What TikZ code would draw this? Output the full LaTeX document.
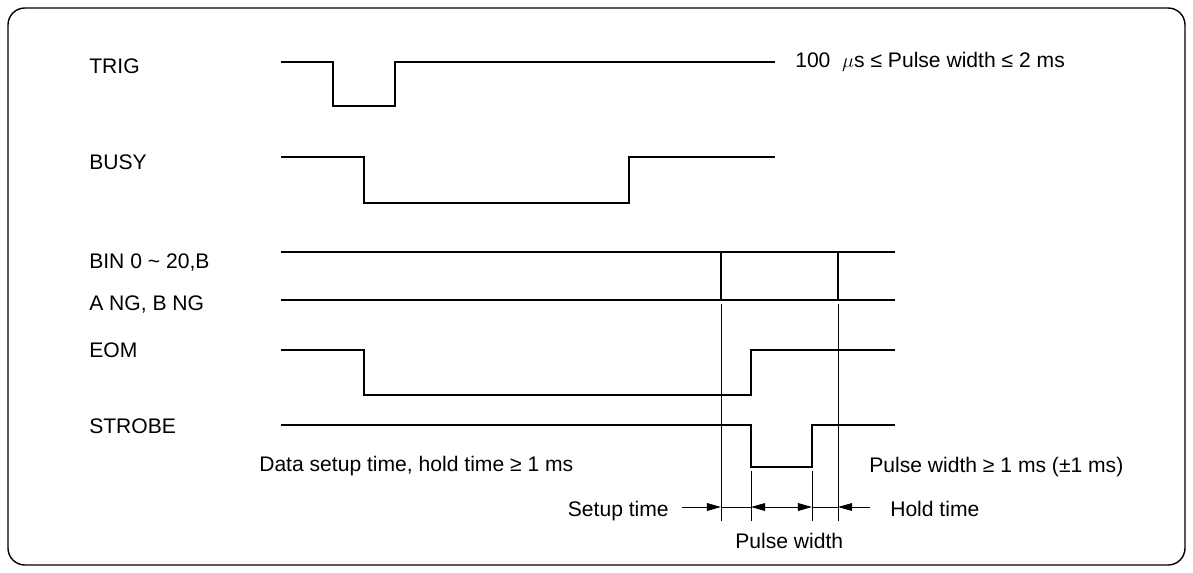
\documentclass[tikz,border=0pt]{standalone}
\usepackage{fontspec}
\setmainfont{Liberation Sans}
\usetikzlibrary{arrows.meta}

\begin{document}
\begin{tikzpicture}[x=0.025cm,y=-0.025cm]
		\tikzstyle{signal}=[line width=2.1pt]
		\tikzstyle{guide}=[line width=0.6pt]
		\tikzstyle{lbl}=[anchor=base west,inner sep=0,font=\fontsize{15}{17}\selectfont]
		\tikzstyle{dim}=[line width=0.6pt,-{Triangle[length=10pt,width=5.5pt]}]
		\useasboundingbox (0,0) rectangle (1193,573);
		\draw[line width=1pt,rounded corners=12] (8,8) rectangle (1185,565);

		% signal names
		\node[lbl] (trig) at (89,73) {TRIG};
		\node[lbl] (busy) at (89,169) {BUSY};
		\node[lbl] (bin) at (89,268) {BIN 0 \char`\~{} 20,B};
		\node[lbl] (ang) at (89,310) {A NG, B NG};
		\node[lbl] (eom) at (89,357) {EOM};
		\node[lbl] (strobe) at (89,433) {STROBE};

		% waveforms
		\draw[signal] (281,62) -- (333,62) -- (333,106) -- (395,106) -- (395,62) -- (775,62);
		\draw[signal] (281,157) -- (364,157) -- (364,203) -- (629,203) -- (629,157) -- (775,157);
		\draw[signal] (281,252) -- (895,252);
		\draw[signal] (281,300) -- (895,300);
		\draw[signal] (721,252) -- (721,300);
		\draw[signal] (838,252) -- (838,300);
		\draw[signal] (281,350) -- (364,350) -- (364,395) -- (751,395) -- (751,350) -- (895,350);
		\draw[signal] (281,425) -- (751,425) -- (751,467) -- (812,467) -- (812,425) -- (895,425);

		\node[lbl] (trignote) at (795,67) {100~ $\mu$s ≤ Pulse width ≤ 2 ms};
		\node[lbl] (datanote) at (259,471) {Data setup time, hold time ≥ 1 ms};
		\node[lbl] (strobenote) at (869,472) {Pulse width ≥ 1 ms (±1 ms)};

		% timing marks
		\draw[guide] (721,304) -- (721,521);
		\draw[guide] (751,471) -- (751,521);
		\draw[guide] (812,471) -- (812,521);
		\draw[guide] (838,304) -- (838,521);
		\coordinate (t1) at (721,507);
		\coordinate (t2) at (751,507);
		\coordinate (t3) at (812,507);
		\coordinate (t4) at (838,507);
		\coordinate (s0) at (682,507);
		\coordinate (h0) at (870,507);

		\node[lbl,anchor=base east] (setup) at (669,516) {Setup time};
		\node[lbl] (hold) at (890,516) {Hold time};
		\node[lbl] (pw) at (735,548) {Pulse width};
		\draw[dim] (s0) -- (t1);
		\draw[guide] (t1) -- (t2);
		\draw[dim,{Triangle[length=10pt,width=5.5pt]}-{Triangle[length=10pt,width=5.5pt]}] (t2) -- (t3);
		\draw[guide] (t3) -- (t4);
		\draw[dim] (h0) -- (t4);
	\end{tikzpicture}
\end{document}
